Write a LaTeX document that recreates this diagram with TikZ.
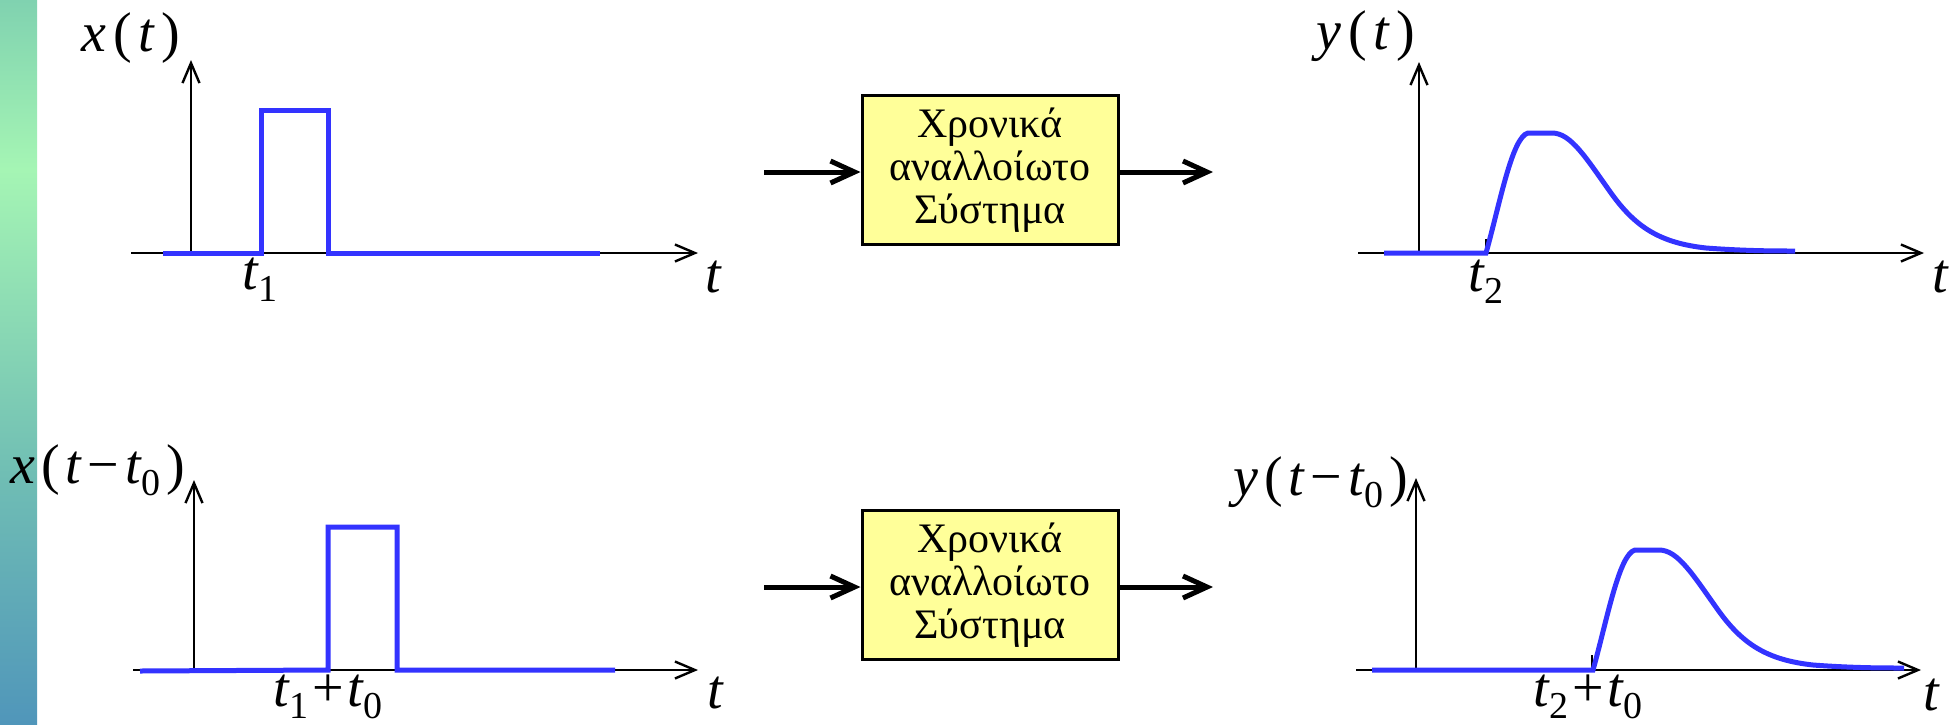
\documentclass[tikz,border=0pt]{standalone}
\usepackage{fontspec}
\setmainfont{Liberation Serif}
\usetikzlibrary{arrows.meta}
\definecolor{sigblue}{RGB}{51,51,255}
\definecolor{boxyellow}{RGB}{255,255,153}
\definecolor{bartop}{RGB}{128,210,176}
\definecolor{barmid}{RGB}{165,245,180}
\definecolor{barlow}{RGB}{112,190,180}
\definecolor{barbot}{RGB}{80,150,186}
\pgfdeclareverticalshading{barshade}{100bp}{color(0bp)=(barbot); color(25bp)=(barbot); color(42.3bp)=(barlow); color(63.3bp)=(barmid); color(75bp)=(bartop); color(100bp)=(bartop)}
\newcommand{\vv}[1]{\textit{#1}}
\newcommand{\lsub}[1]{\raisebox{-0.22em}{\fontsize{38}{38}\selectfont #1}}
\newcommand{\wgap}{\hspace{0.12em}}
\newcommand{\ngap}{\hspace{0.1em}}
\newcommand{\mgap}{\hspace{0.06em}}
\begin{document}
\begin{tikzpicture}[x=1pt,y=-1pt,
  axisline/.style={line width=2.4pt,-{Straight Barb[length=20pt,width=17pt]}},
  sig/.style={draw=sigblue,line width=5pt,line join=miter},
  tickmark/.style={line width=2.5pt},
  lab/.style={font=\fontsize{56}{56}\selectfont,inner sep=0pt,anchor=base},
  sysbox/.style={draw,line width=3pt,fill=boxyellow,minimum width=256pt,minimum height=149pt,align=center,inner sep=0pt,font=\fontsize{42}{43}\selectfont},
  sysarrow/.style={line width=5pt,-{Straight Barb[length=24pt,width=22pt]}}]
\useasboundingbox (0,0) rectangle (1955,724);
\fill[white] (0,0) rectangle (1955,724);
\shade[shading=barshade] (0,0) rectangle (37,724);

% ---------- top-left: x(t)
\coordinate (a1o) at (191,253);
\coordinate (a1x0) at (131,253);
\coordinate (a1x1) at (698,253);
\coordinate (a1y1) at (191,60);
\draw[axisline] (a1x0) -- (a1x1);
\draw[axisline] (a1o) -- (a1y1);
\coordinate (k1a) at (263,253);
\coordinate (k1b) at (263,238);
\draw[tickmark] (k1a) -- (k1b);
\draw[sig] (163,253) -- (261,253) -- (261,110) -- (328,110) -- (328,253) -- (600,253);
\node[lab] (lx1) at (131,51) {\vv{x}\wgap(\wgap\vv{t}\wgap)};
\node[lab] (lt1) at (260,289) {\vv{t}\lsub{1}};
\node[lab] (lta) at (714,292) {\vv{t}};

% ---------- top system
\node[sysbox] (box1) at (990,170) {Χρονικά\\αναλλοίωτο\\Σύστημα};
\coordinate (in1) at (764,172);
\coordinate (out1) at (1213,172);
\draw[sysarrow] (in1) -- (in1 -| box1.west);
\draw[sysarrow] (out1 -| box1.east) -- (out1);

% ---------- top-right: y(t)
\coordinate (a2o) at (1419,253);
\coordinate (a2x0) at (1358,253);
\coordinate (a2x1) at (1924,253);
\coordinate (a2y1) at (1419,62);
\draw[axisline] (a2x0) -- (a2x1);
\draw[axisline] (a2o) -- (a2y1);
\begin{scope}[shift={(1486,253)}]
\draw[tickmark] (0,0) -- (0,-14);
\draw[sig] (-102,0) -- (0,0) .. controls (14,-50) and (26,-116) .. (42,-120) -- (66,-120)
  .. controls (85,-120) and (100,-95) .. (125,-60)
  .. controls (150,-25) and (175,-10) .. (220,-5)
  .. controls (260,-2) and (290,-2) .. (309,-2);
\end{scope}
\node[lab] (ly1) at (1366,49) {\vv{y}\wgap(\wgap\vv{t}\wgap)};
\node[lab] (lt2) at (1486,291) {\vv{t}\lsub{2}};
\node[lab] (ltb) at (1941,292) {\vv{t}};

% ---------- bottom-left: x(t-t0)
\coordinate (a3o) at (194,670);
\coordinate (a3x0) at (133,670);
\coordinate (a3x1) at (698,670);
\coordinate (a3y1) at (194,480);
\draw[axisline] (a3x0) -- (a3x1);
\draw[axisline] (a3o) -- (a3y1);
\draw[sig] (140,671) -- (328,670) -- (328,527) -- (397,527) -- (397,670) -- (615,670);
\node[lab] (lx2) at (98,483) {\vv{x}\ngap(\ngap\vv{t}\ngap−\ngap\vv{t}\lsub{0}\ngap)};
\node[lab] (lt3) at (328,706) {\vv{t}\lsub{1}\mgap+\mgap\vv{t}\lsub{0}};
\node[lab] (ltc) at (716,708) {\vv{t}};

% ---------- bottom system
\node[sysbox] (box2) at (990,585) {Χρονικά\\αναλλοίωτο\\Σύστημα};
\coordinate (in2) at (764,587);
\coordinate (out2) at (1213,587);
\draw[sysarrow] (in2) -- (in2 -| box2.west);
\draw[sysarrow] (out2 -| box2.east) -- (out2);

% ---------- bottom-right: y(t-t0)
\coordinate (a4o) at (1416,670);
\coordinate (a4x0) at (1356,670);
\coordinate (a4x1) at (1921,670);
\coordinate (a4y1) at (1416,478);
\draw[axisline] (a4x0) -- (a4x1);
\draw[axisline] (a4o) -- (a4y1);
\begin{scope}[shift={(1593,670)}]
\draw[tickmark] (-1,0) -- (-1,-15);
\draw[sig] (-221,0) -- (0,0) .. controls (14,-50) and (26,-116) .. (42,-120) -- (66,-120)
  .. controls (85,-120) and (100,-95) .. (125,-60)
  .. controls (150,-25) and (175,-10) .. (220,-5)
  .. controls (260,-2) and (290,-2) .. (311,-2);
\end{scope}
\node[lab] (ly2) at (1321,495) {\vv{y}\ngap(\ngap\vv{t}\ngap−\ngap\vv{t}\lsub{0}\ngap)};
\node[lab] (lt4) at (1588,706) {\vv{t}\lsub{2}\mgap+\mgap\vv{t}\lsub{0}};
\node[lab] (ltd) at (1932,710) {\vv{t}};
\end{tikzpicture}
\end{document}
